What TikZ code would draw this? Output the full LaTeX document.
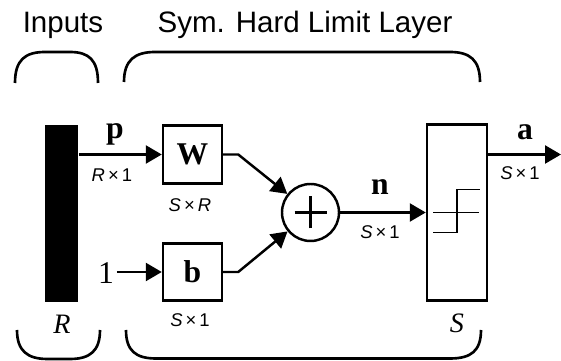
\documentclass[tikz,border=0pt]{standalone}
\usepackage{fontspec}
\setmainfont{Liberation Serif}
\newfontfamily\labelfont{Liberation Sans}
\usetikzlibrary{arrows.meta}

\begin{document}
\begin{tikzpicture}[
  line width=1.4pt,
  box/.style={draw, minimum width=1.18cm, minimum height=1.16cm, inner sep=0pt, font=\fontsize{18}{18}\selectfont\bfseries},
  sym/.style={font=\fontsize{18}{18}\selectfont\bfseries, inner sep=0pt},
  dim/.style={font=\labelfont\fontsize{10.5}{11}\selectfont, inner sep=0pt},
  title/.style={font=\labelfont\fontsize{16.8}{18}\selectfont},
  sig/.style={-{Triangle[length=0.32cm,width=0.36cm]}},
  brace/.style={line width=1.5pt},
]
\useasboundingbox (0,0) rectangle (11.22,7.22);

% --- titles and brackets ---
  \node[title] (intitle) at (1.26,6.72) {Inputs};
  \node[title] (laytitle) at (6.1,6.72) {Sym. Hard Limit Layer};

  \draw[brace] (0.3,5.56) .. controls (0.3,6.02) and (0.5,6.18) .. (0.9,6.18) -- (1.4,6.18) .. controls (1.78,6.18) and (1.96,6.02) .. (1.96,5.56);
  \draw[brace] (2.48,5.58) .. controls (2.48,6.02) and (2.7,6.18) .. (3.1,6.18) -- (9.0,6.18) .. controls (9.4,6.18) and (9.6,6.02) .. (9.6,5.58);
  \draw[brace] (0.34,0.62) .. controls (0.34,0.2) and (0.55,0.04) .. (0.95,0.04) -- (1.4,0.04) .. controls (1.8,0.04) and (2.0,0.2) .. (2.0,0.62);
  \draw[brace] (2.52,0.62) .. controls (2.52,0.2) and (2.72,0.05) .. (3.12,0.05) -- (9.0,0.05) .. controls (9.42,0.05) and (9.62,0.2) .. (9.62,0.62);

% --- input vector ---
  \node[fill=black, minimum width=0.66cm, minimum height=3.54cm, inner sep=0pt] (input) at (1.23,2.95) {};
  \node[font=\fontsize{16}{16}\selectfont\itshape] (rlab) at (1.24,0.74) {R};

% --- weights and bias ---
  \node[box] (wbox) at (3.85,4.13) {W};
  \node[box, minimum height=1.14cm] (bbox) at (3.85,1.78) {b};
  \node[dim] (wdim) at (3.8,3.12) {\textit{S}\,×\,\textit{R}};
  \node[dim] (bdim) at (3.8,0.82) {\textit{S}\,×\,1};

  \draw[sig] (input.east |- wbox) -- (wbox.west);
  \node[sym] (plab) at (2.3,4.54) {p};
  \node[dim] (pdim) at (2.24,3.72) {\textit{R}\,×\,1};

  \node[font=\fontsize{18}{18}\selectfont, inner sep=1pt] (one) at (2.12,1.76) {1};
  \draw[sig] (one.east |- bbox) -- (bbox.west);

% --- summation ---
  \node[draw, circle, minimum size=1.14cm, inner sep=0pt] (sum) at (6.21,2.97) {};
  \draw (sum.center) ++(-0.32,0) -- ++(0.64,0);
  \draw (sum.center) ++(0,-0.32) -- ++(0,0.64);

  \draw[sig] (wbox.east) -- ++(0.3,0) -- (sum);
  \draw[sig] (bbox.east) -- ++(0.3,0) -- (sum);

% --- transfer function ---
  \node[draw, minimum width=1.2cm, minimum height=3.52cm, inner sep=0pt] (sbox) at (9.14,2.97) {};
  \node[font=\fontsize{16}{16}\selectfont\itshape] (slab) at (9.14,0.76) {S};
  \draw[line width=0.8pt] ([xshift=-0.48cm]sbox.center) -- ([xshift=0.44cm]sbox.center);
  \draw[line width=1pt] ([shift={(-0.48,-0.4)}]sbox.center) -- ([shift={(0,-0.4)}]sbox.center) -- ([shift={(0,0.46)}]sbox.center) -- ([shift={(0.46,0.46)}]sbox.center);

  \draw[sig] (sum) -- (sbox);
  \node[sym] (nlab) at (7.6,3.47) {n};
  \node[dim] (ndim) at (7.6,2.58) {\textit{S}\,×\,1};

% --- output ---
  \coordinate (out) at (11.22,4.13);
  \draw[sig] (sbox.east |- wbox) -- (out);
  \node[sym] (alab) at (10.5,4.58) {a};
  \node[dim] (adim) at (10.4,3.76) {\textit{S}\,×\,1};
\end{tikzpicture}
\end{document}
